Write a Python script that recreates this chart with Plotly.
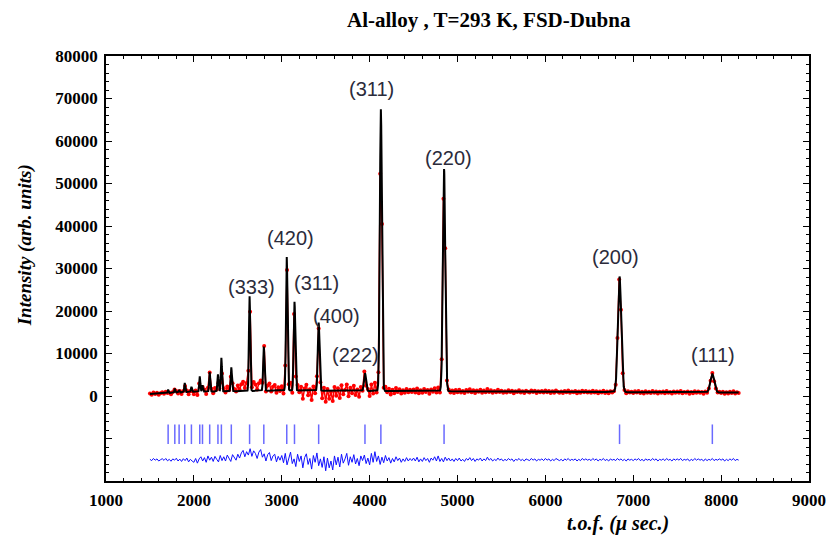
import numpy as np
import plotly.graph_objects as go

# ---- data ----
# Bragg reflection positions (t.o.f., microseconds)
bragg_t = [1707, 1783, 1832, 1896, 1972, 2067, 2098, 2180, 2274, 2313, 2426,
           2634, 2796, 3057, 3145, 3420, 3947, 4128, 4847, 6844, 7900]
# peak heights above background (arb. units)
peak_h = [800, 1000, 600, 2200, 1200, 3600, 1500, 4600, 4000, 7900, 5600,
          22300, 10400, 31400, 20900, 16000, 4200, 66300, 52300, 27200, 4300]
# background level
bg_t = [1500, 2000, 3000, 4000, 5000, 6000, 7000, 8200]
bg_y = [500, 1000, 1300, 1200, 1100, 1000, 900, 800]

# residuals (observed - calculated) read every 20 us from 1500 to 8200
resid_t0, resid_dt = 1500, 20
resid = [
    100, -200, 300, -100, 200, -300, 0, 250, -150, 300, -250, 100, -350, 200, -100,
    350, -300, 150, -400, 250, -200, 400, -500, 100, -300,
    -600, 300, -800, 200, 700, -300, 500, -600, 900, -100, 600, -400, 800, 100, -500,
    1000, -200, 700, -300, 1100, 200, -400, 1200, 500, -100,
    1300, 400, 1600, 2200, 700, 1900, 1100, 2600, 800, 2100, 1500, 300, 1800, 2400, 600,
    1400, -300, 1200, 1700, -200, 900, 1300, -500, 800, -100,
    1000, -700, 1500, -1200, 600, 1800, -900, 200, -1600, 1300, -400, 900, -1900, 500, 1400,
    -1100, 300, -2200, 1000, -600, 1600, -1400, 200, -1800, 700,
    -2600, 400, -1900, -300, -2400, 900, -1200, 600, -1700, 1300, -800, 200, 1500, -1300, 700,
    -600, 1200, -1000, 300, -1400, 900, -200, 1100, -900, 400,
    -1200, 1500, -600, 1900, -400, 900, -1100, 600, -700, 1000, -300, 500, -800, 300, -500,
    700, -200, 400, -600, 200, -400, 500, -300, 300, -200,
    400, -300, 600, -500, 200, -400, 500, -200, 300, -600, 400, -100, 700, -300, 900,
    -400, 300, -500, 600, -200, 400, -300, 200, -400, 300,
    -200, 400, -300, 100, -400, 300, -100, 500, -200, 300, -400, 200, -100, 400, -300,
    200, -200, 600, -100, 300, -300, 100, -200, 400, -100,
    200, -300, 100, -200, 300, -100, 200, -400, 100, -100, 300, -200, 100, -300, 200,
    0, -200, 300, -100, 200, -300, 100, -100, 200, -200,
    300, -100, 200, -300, 100, -200, 300, 0, -200, 100, -300, 200, -100, 300, -200,
    100, -100, 200, -300, 100, -200, 300, -100, 200, -100,
    100, -200, 300, -100, 200, -300, 100, -100, 300, -200, 100, -300, 200, -100, 100,
    -200, 300, -100, 200, -200, 100, -300, 200, -100, 100,
    -200, 200, -100, 300, -200, 100, -300, 200, -100, 100, -200, 300, -100, 200, -300,
    100, -100, 200, -200, 300, -100, 100, -300, 200, -100,
    200, -100, 300, -200, 100, -100, 200, -300, 100, -200, 300, -100, 200, -100, 100,
    -300, 200, -200, 100, -100, 300, -200, 100, -100, 200,
    -100, 200, -300, 100, -200, 200, -100, 300, -200, 100, -100,
]
diff_offset = -15000
tick_level = -9000

# peak labels (text, t, y)
lab_text = ["(333)", "(420)", "(311)", "(400)", "(222)", "(311)", "(220)", "(200)", "(111)"]
lab_t = [2653, 3099, 3391, 3618, 3837, 4026, 4896, 6795, 7911]
lab_y = [25700, 37200, 26600, 18800, 9650, 72200, 55900, 32800, 9650]

x_ticks = [1000, 2000, 3000, 4000, 5000, 6000, 7000, 8000, 9000]
y_ticks = [-10000, 0, 10000, 20000, 30000, 40000, 50000, 60000, 70000, 80000]
y_ticktext = ["", "0", "10000", "20000", "30000", "40000", "50000", "60000", "70000", "80000"]

# ---- build profile ----
def calc(t):
    t = np.asarray(t, dtype=float)
    y = np.interp(t, bg_t, bg_y)
    for p, h in zip(bragg_t, peak_h):
        s = 0.0028 * p
        y = y + h * np.exp(-0.5 * ((t - p) / s) ** 2)
    return y

t_fine = np.arange(1500, 8200.5, 1.0)
y_calc = calc(t_fine)
t_obs = resid_t0 + resid_dt * np.arange(len(resid))
y_obs = calc(t_obs) + np.array(resid)
y_diff = diff_offset + np.array(resid)

serif = "Liberation Serif"
fig = go.Figure()
fig.add_trace(go.Scatter(x=t_obs, y=y_obs, mode="lines+markers",
                         line=dict(color="#ff0000", width=1.5),
                         marker=dict(color="#ff0000", size=4), showlegend=False))
fig.add_trace(go.Scatter(x=t_fine, y=y_calc, mode="lines",
                         line=dict(color="#000000", width=2), showlegend=False))
fig.add_trace(go.Scatter(x=bragg_t, y=[tick_level] * len(bragg_t), mode="markers",
                         marker=dict(symbol="line-ns", size=14,
                                     line=dict(color="#6a6aff", width=1.5)),
                         showlegend=False))
fig.add_trace(go.Scatter(x=t_obs, y=y_diff, mode="lines",
                         line=dict(color="#1010ff", width=1), showlegend=False))

for txt, tx, ty in zip(lab_text, lab_t, lab_y):
    fig.add_annotation(x=tx, y=ty, text=txt, showarrow=False,
                       xanchor="center", yanchor="middle",
                       font=dict(family="Liberation Sans", size=20, color="#2b2b3b"))

fig.add_annotation(xref="paper", yref="paper", x=0.545, y=1.085, text="Al-alloy , T=293 K, FSD-Dubna",
                   xanchor="center", yanchor="middle", showarrow=False,
                   font=dict(family=serif, size=21, color="black", weight="bold"))
fig.add_annotation(xref="paper", yref="paper", x=-0.115, y=0.555, text="<i>Intensity (arb. units)</i>",
                   xanchor="center", yanchor="middle", textangle=-90, showarrow=False,
                   font=dict(family=serif, size=19, color="black", weight="bold"))
fig.add_annotation(xref="paper", yref="paper", x=0.729, y=-0.099, text="<i>t.o.f. (μ sec.)</i>",
                   xanchor="center", yanchor="middle", showarrow=False,
                   font=dict(family=serif, size=20, color="black", weight="bold"))

axis_common = dict(showline=True, linecolor="black", linewidth=1.5, mirror="ticks",
                   ticks="inside", ticklen=6, tickwidth=1.2, tickcolor="black",
                   showgrid=False, zeroline=False,
                   tickfont=dict(family=serif, size=17, color="black", weight="bold"))
fig.update_xaxes(range=[1000, 9000], tickvals=x_ticks, ticklabelstandoff=3,
                 minor=dict(dtick=200, tick0=1000, ticks="inside", ticklen=3, tickcolor="black"),
                 **axis_common)
fig.update_yaxes(range=[-20000, 80000], tickvals=y_ticks, ticktext=y_ticktext, ticklabelstandoff=3,
                 minor=dict(dtick=2000, tick0=0, ticks="inside", ticklen=3, tickcolor="black"),
                 **axis_common)
# page body keeps an 8px margin, so the figure is 8px smaller and shifted back
fig.update_layout(width=830, height=527, margin=dict(l=98, r=27, t=48, b=54),
                  paper_bgcolor="white", plot_bgcolor="white")
fig.write_html("out.html")
